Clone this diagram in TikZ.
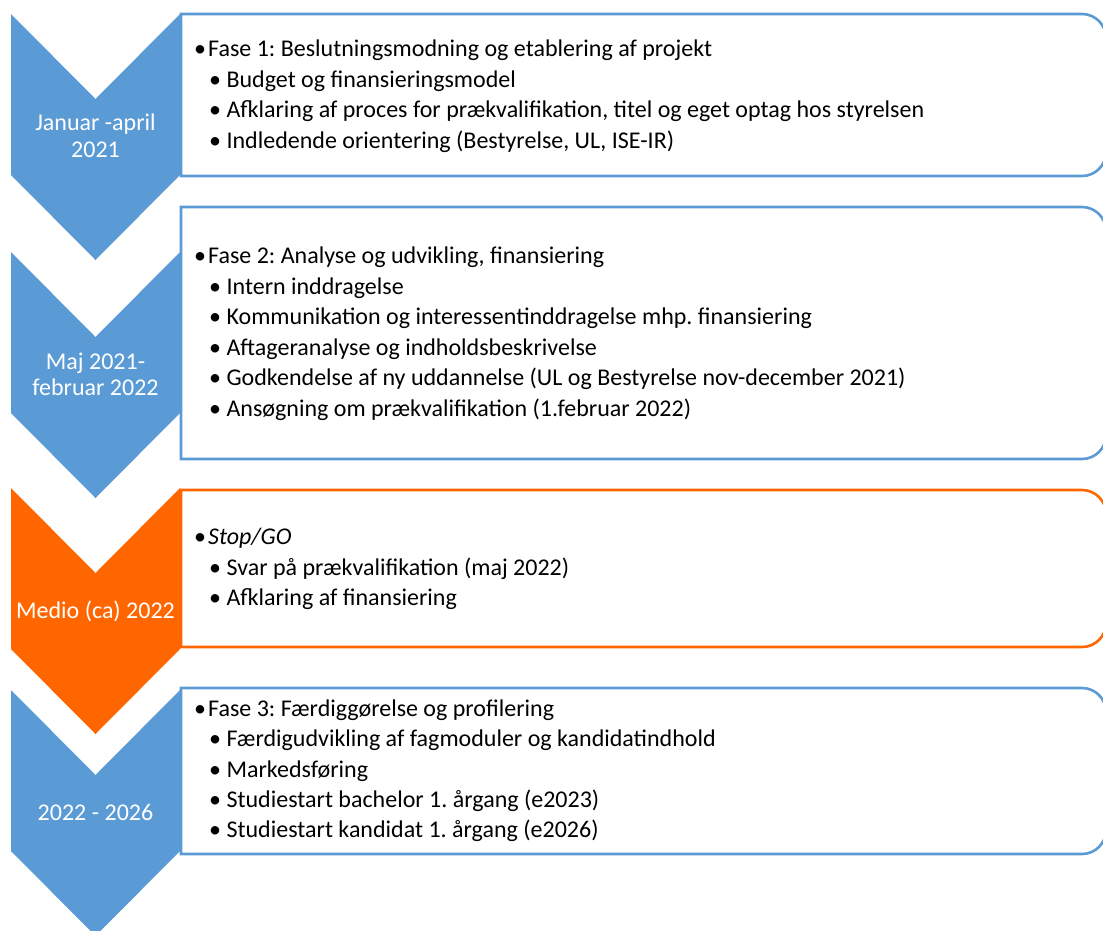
\documentclass[tikz,border=0pt]{standalone}
\usepackage{fontspec}
\setmainfont{Carlito}
\frenchspacing
\definecolor{cblue}{HTML}{5B9BD5}
\definecolor{corange}{HTML}{FF6600}
\tikzset{
  ctext/.style={text=white, font=\fontsize{24}{27}\selectfont, inner sep=0pt, anchor=base},
  btext/.style={text=black, font=\fontsize{24}{30}\selectfont\frenchspacing, inner sep=0pt, anchor=base west},
  boxline/.style={draw=#1, line width=2.6pt, fill=white},
}
% chevron: #1 top y, #2 colour
\newcommand\mychev[2]{%
  \fill[#2] (11,#1) -- (95.5,{#1+85}) -- (180,#1) -- (180,{#1+161}) -- (95.5,{#1+246}) -- (11,{#1+161}) -- cycle;}
% box: #1 top y, #2 bottom y, #3 colour
\newcommand\mybox[3]{%
  \path[boxline=#3] (181,#1) -- (1082,#1) .. controls (1095.25,#1) and (1106,{#1+10.75}) .. (1106,{#1+24})
    -- (1106,{#2-24}) .. controls (1106,{#2-10.75}) and (1095.25,#2) .. (1082,#2) -- (181,#2) -- cycle;}
\begin{document}
\begin{tikzpicture}[x=1pt,y=-1pt]
\useasboundingbox (0,0) rectangle (1103,930);
\begin{scope}
\clip (0,0) rectangle (1103,930);
\mychev{14}{cblue}
\mychev{252}{cblue}
\mychev{488}{corange}
\mychev{690}{cblue}
\mybox{14}{176}{cblue}
\mybox{207}{459}{cblue}
\mybox{490}{647}{corange}
\mybox{688}{854}{cblue}
\end{scope}

% chevron labels
\node[ctext] (c1a) at (95.5,130) {Januar -april};
\node[ctext] (c1b) at (95.5,157) {2021};
\node[ctext] (c2a) at (95.5,369) {Maj 2021-};
\node[ctext] (c2b) at (95.5,395) {februar 2022};
\node[ctext] (c3a) at (95.5,618) {Medio (ca) 2022};
\node[ctext] (c4a) at (95.5,820) {2022 - 2026};

% box 1
\node[btext] (b1h) at (194,56) {•\kern2pt Fase 1: Beslutningsmodning og etablering af projekt};
\node[btext] (b1a) at (209,87) {• Budget og finansieringsmodel};
\node[btext] (b1b) at (209,117) {• Afklaring af proces for prækvalifikation, titel og eget optag hos styrelsen};
\node[btext] (b1c) at (209,148) {• Indledende orientering (Bestyrelse, UL, ISE-IR)};

% box 2
\node[btext] (b2h) at (194,263) {•\kern2pt Fase 2: Analyse og udvikling, finansiering};
\node[btext] (b2a) at (209,294) {• Intern inddragelse};
\node[btext] (b2b) at (209,324) {• Kommunikation og interessentinddragelse mhp. finansiering};
\node[btext] (b2c) at (209,355) {• Aftageranalyse og indholdsbeskrivelse};
\node[btext] (b2d) at (209,385) {• Godkendelse af ny uddannelse (UL og Bestyrelse nov-december 2021)};
\node[btext] (b2e) at (209,416) {• Ansøgning om prækvalifikation (1.februar 2022)};

% box 3
\node[btext] (b3h) at (194,544) {•\kern2pt\textit{Stop/GO}};
\node[btext] (b3a) at (209,575) {• Svar på prækvalifikation (maj 2022)};
\node[btext] (b3b) at (209,605) {• Afklaring af finansiering};

% box 4
\node[btext] (b4h) at (194,716) {•\kern2pt Fase 3: Færdiggørelse og profilering};
\node[btext] (b4a) at (209,746) {• Færdigudvikling af fagmoduler og kandidatindhold};
\node[btext] (b4b) at (209,777) {• Markedsføring};
\node[btext] (b4c) at (209,807) {• Studiestart bachelor 1. årgang (e2023)};
\node[btext] (b4d) at (209,837) {• Studiestart kandidat 1. årgang (e2026)};
\end{tikzpicture}
\end{document}
